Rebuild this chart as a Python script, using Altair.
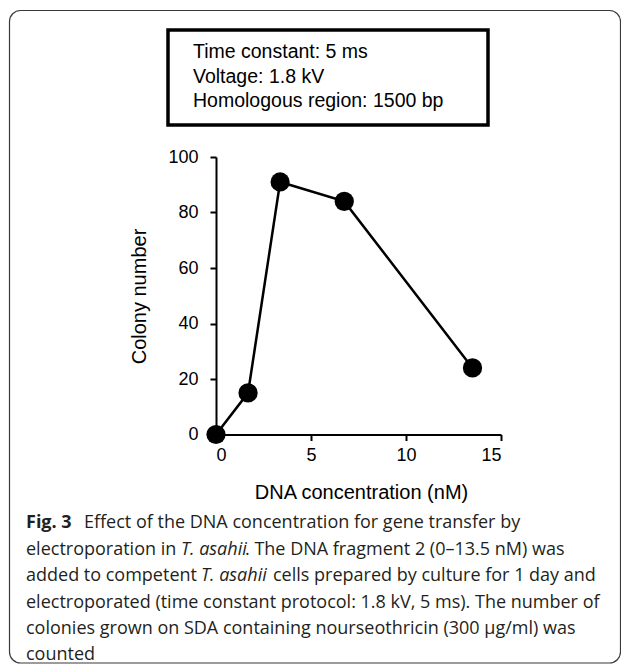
import altair as alt
import pandas as pd

# ---- data ----
conc_nM = [0, 1.6875, 3.375, 6.75, 13.5]
colony_number = [0, 15, 91, 84, 24]
x_tick_values = [0, 5, 10, 15]
y_tick_values = [0, 20, 40, 60, 80, 100]
x_title = "DNA concentration (nM)"
y_title = "Colony number"
box_lines = ["Time constant: 5 ms", "Voltage: 1.8 kV", "Homologous region: 1500 bp"]

# caption segments: (line index, text, weight, style, left x in page px)
caption_segments = [
    (0, "Fig. 3", "bold", "normal", 26),
    (0, "Effect of the DNA concentration for gene transfer by", "normal", "normal", 84),
    (1, "electroporation in", "normal", "normal", 26),
    (1, "T. asahii", "normal", "italic", 181),
    (1, ". The DNA fragment 2 (0\u201313.5 nM) was", "normal", "normal", 245),
    (2, "added to competent", "normal", "normal", 26),
    (2, "T. asahii", "normal", "italic", 201),
    (2, "cells prepared by culture for 1 day and", "normal", "normal", 273),
    (3, "electroporated (time constant protocol: 1.8 kV, 5 ms). The number of", "normal", "normal", 26),
    (4, "colonies grown on SDA containing nourseothricin (300 \u00b5g/ml) was", "normal", "normal", 26),
    (5, "counted", "normal", "normal", 26),
]

# ---- layout (page px) ----
OX, OY = 216, 157          # plot origin on the page
W, H = 285, 277.5
PAD_L, PAD_T = OX - 8, OY - 8
TOTAL_W, TOTAL_H = 613, 656

def vx(px):
    return px - OX

def vy(py):
    return py - OY

df = pd.DataFrame({"conc": conc_nM, "colonies": colony_number})
dummy = pd.DataFrame({"d": [0]})

axis_common = dict(
    domainColor="black", domainWidth=2, tickColor="black", tickWidth=2, tickSize=6,
    grid=False, labelFont="Liberation Sans", labelFontSize=18, labelColor="black",
    titleFont="Liberation Sans", titleFontSize=20, titleFontWeight="normal", titleColor="black",
)

x_enc = alt.X(
    "conc:Q",
    scale=alt.Scale(domain=[0, 15], nice=False, zero=False),
    axis=alt.Axis(values=x_tick_values, title=x_title, labelPadding=6,
                  titleX=vx(361), titleY=498 - (OY + H), titleBaseline="alphabetic",
                  titleAlign="center", **axis_common),
)
y_enc = alt.Y(
    "colonies:Q",
    scale=alt.Scale(domain=[0, 100], nice=False),
    axis=alt.Axis(values=y_tick_values, title=y_title, labelPadding=12,
                  titleX=145 - OX, titleY=vy(296), titleBaseline="alphabetic",
                  titleAlign="center", titleAngle=270, **axis_common),
)

line = alt.Chart(df).mark_line(color="black", strokeWidth=2.5).encode(x=x_enc, y=y_enc)
points = alt.Chart(df).mark_circle(color="black", opacity=1, size=370).encode(x=x_enc, y=y_enc)

layers = []

# outer rounded frame
layers.append(
    alt.Chart(dummy).mark_rect(fillOpacity=0, stroke="#3a3a3a", strokeWidth=1.2, cornerRadius=11).encode(
        x=alt.value(vx(9.5)), x2=alt.value(vx(620.5)), y=alt.value(vy(10.5)), y2=alt.value(vy(663))
    )
)
# settings box
layers.append(
    alt.Chart(dummy).mark_rect(fillOpacity=0, stroke="black", strokeWidth=3.5).encode(
        x=alt.value(vx(168)), x2=alt.value(vx(488)), y=alt.value(vy(30)), y2=alt.value(vy(125))
    )
)
for i, txt in enumerate(box_lines):
    layers.append(
        alt.Chart(dummy).mark_text(
            text=txt, align="left", baseline="alphabetic", font="Liberation Sans",
            fontSize=19.5, color="black"
        ).encode(x=alt.value(vx(193)), y=alt.value(vy(58 + 24.5 * i)))
    )

line_baselines = [528, 554.5, 581, 607.5, 634, 660]
for li, txt, weight, style, px in caption_segments:
    layers.append(
        alt.Chart(dummy).mark_text(
            text=txt, align="left", baseline="alphabetic", font="Open Sans",
            fontSize=18, fontWeight=weight, fontStyle=style, color="#231f20"
        ).encode(x=alt.value(vx(px)), y=alt.value(vy(line_baselines[li])))
    )

chart = alt.layer(*layers, line, points).properties(
    width=W, height=H,
    autosize=alt.AutoSizeParams(type="none"),
    padding={"left": PAD_L, "top": PAD_T, "right": TOTAL_W - PAD_L - W, "bottom": TOTAL_H - PAD_T - H},
    background="white",
).configure_view(stroke=None)

chart.save("out.html", embed_options={"renderer": "svg", "actions": False})
